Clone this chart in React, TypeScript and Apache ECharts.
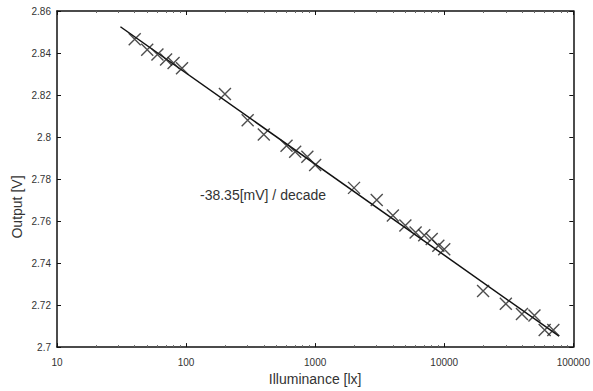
import React, { useEffect, useRef } from "react";
import * as echarts from "echarts";

const illuminance = [40, 50, 60, 70, 80, 93, 200, 300, 400, 600, 700, 870, 1000, 2000, 3000, 4000, 5000, 6000, 7000, 8000, 9000, 10000, 20000, 30000, 40000, 50000, 60000, 70000];
const output = [2.8466, 2.8416, 2.8393, 2.8369, 2.8353, 2.8327, 2.8205, 2.808, 2.8012, 2.7958, 2.793, 2.7906, 2.7867, 2.7758, 2.77, 2.7626, 2.7579, 2.7546, 2.7532, 2.7515, 2.7483, 2.7466, 2.7267, 2.7206, 2.7158, 2.7151, 2.7081, 2.7081];
const fitX = [31, 77600];
const fitY = [2.8525, 2.7052];
const xTicks = [10, 100, 1000, 10000, 100000];
const annotation = "-38.35[mV] / decade";
const yTitle = "Output [V]";
const xTitle = "Illuminance [lx]";

const FONT = "Liberation Sans, Arial, sans-serif";

export default function App() {
  const ref = useRef<HTMLDivElement>(null);
  useEffect(() => {
    document.body.style.margin = "0";
    const chart = echarts.init(ref.current!, null, { renderer: "svg" });
    const axisLine = { show: true, lineStyle: { color: "#111", width: 1.5 } };
    chart.setOption({
      animation: false,
      backgroundColor: "#fff",
      grid: { left: 57, right: 17, top: 11, bottom: 40, containLabel: false },
      xAxis: [
        {
          type: "log",
          logBase: 10,
          min: xTicks[0],
          max: xTicks[xTicks.length - 1],
          name: xTitle,
          nameLocation: "middle",
          nameGap: 24,
          nameTextStyle: { fontFamily: FONT, fontSize: 14, color: "#333" },
          axisLine,
          axisTick: { show: true, inside: true, length: 4, lineStyle: { color: "#111" } },
          minorTick: { show: true, splitNumber: 9, length: 2, lineStyle: { color: "#666" } },
          splitLine: { show: false },
          axisLabel: {
            fontFamily: FONT,
            fontSize: 10,
            color: "#333",
            margin: 10,
            formatter: (v: number) => String(Math.round(v)),
          },
        },
        {
          type: "log",
          logBase: 10,
          position: "top",
          min: xTicks[0],
          max: xTicks[xTicks.length - 1],
          axisLine,
          axisTick: { show: true, inside: true, length: 4, lineStyle: { color: "#111" } },
          minorTick: { show: true, splitNumber: 9, length: 2, lineStyle: { color: "#666" } },
          splitLine: { show: false },
          axisLabel: { show: false },
        },
      ],
      yAxis: [
        {
          type: "value",
          min: 2.7,
          max: 2.86,
          interval: 0.02,
          axisLine,
          axisTick: { show: true, inside: true, length: 4, lineStyle: { color: "#111" } },
          splitLine: { show: false },
          axisLabel: {
            fontFamily: FONT,
            fontSize: 10,
            color: "#333",
            margin: 6,
            formatter: (v: number) => String(+v.toFixed(2)),
          },
        },
        {
          type: "value",
          position: "right",
          min: 2.7,
          max: 2.86,
          interval: 0.02,
          axisLine,
          axisTick: { show: true, inside: true, length: 4, lineStyle: { color: "#111" } },
          splitLine: { show: false },
          axisLabel: { show: false },
        },
      ],
      series: [
        {
          type: "line",
          data: fitX.map((x, i) => [x, fitY[i]]),
          symbol: "none",
          lineStyle: { color: "#111", width: 1.5 },
          z: 2,
        },
        {
          type: "scatter",
          data: illuminance.map((x, i) => [x, output[i]]),
          symbol: "path://M0,0L10,10M10,0L0,10",
          symbolSize: 12,
          itemStyle: { color: "transparent", borderColor: "#222", borderWidth: 1.4 },
          z: 3,
        },
      ],
      graphic: [
        {
          type: "text",
          left: 200,
          top: 188,
          style: { text: annotation, fontFamily: FONT, fontSize: 14, fill: "#333" },
        },
        {
          type: "text",
          x: 17,
          y: 207,
          rotation: Math.PI / 2,
          style: {
            text: yTitle,
            fontFamily: FONT,
            fontSize: 14,
            fill: "#333",
            align: "center",
            verticalAlign: "middle",
          },
        },
      ],
    });
    return () => chart.dispose();
  }, []);
  return <div ref={ref} style={{ position: "absolute", left: 0, top: 0, width: 593, height: 391 }} />;
}
